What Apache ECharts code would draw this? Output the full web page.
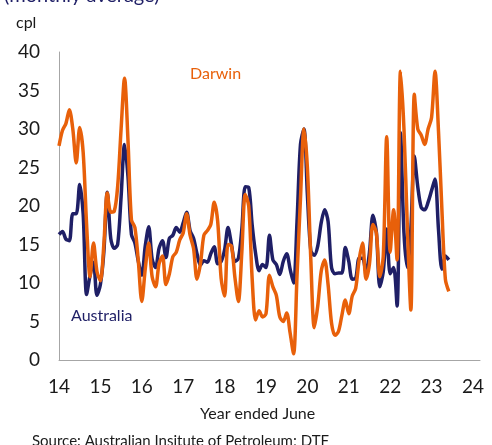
<!DOCTYPE html>
<html>
<head>
<meta charset="utf-8">
<script src="https://cdn.jsdelivr.net/npm/echarts@6/dist/echarts.min.js"></script>
<style>
  html, body { margin: 0; padding: 0; background: #fff; }
  #chart { width: 492px; height: 445px; }
</style>
</head>
<body>
<div id="chart"></div>
<script>
// monthly averages, cents per litre, first month sits on the "14" tick
var startYear = 14
var darwin = [
  27.8, 29.8, 30.7, 32.5, 30.0, 25.6, 30.2, 27.0, 17.6, 10.8,
  15.2, 11.5, 10.3, 15.0, 21.7, 19.2, 19.3, 22.5, 30.0, 36.6,
  28.5, 18.2, 17.2, 12.8, 7.6, 11.8, 15.2, 10.8, 9.5, 12.5,
  13.5, 9.8, 11.2, 13.4, 14.0, 15.6, 16.5, 19.0, 16.2, 14.5,
  10.5, 12.5, 16.2, 16.8, 17.6, 20.5, 18.0, 10.6, 8.3, 15.0,
  14.8, 10.7, 7.6, 14.0, 21.5, 20.0, 10.5, 5.2, 6.4, 5.6,
  6.0, 11.0, 9.5, 8.4, 5.6, 5.0, 6.1, 3.5, 0.8, 11.0,
  21.0, 30.0, 25.0, 13.0, 4.2, 7.0, 11.5, 13.0, 9.8, 4.8,
  3.2, 3.7, 5.8, 7.8, 6.0, 8.3, 9.3, 13.0, 15.2, 10.5,
  12.5, 17.6, 16.5, 10.8, 13.5, 29.0, 14.0, 19.5, 13.0, 37.5,
  30.0, 17.0, 6.5, 34.5, 30.0, 29.2, 28.0, 30.0, 31.5, 37.5,
  29.8, 19.5, 10.5, 8.9
]
var australia = [
  16.3, 16.7, 15.7, 15.5, 19.0, 19.0, 22.8, 19.0, 8.5, 11.0,
  12.7, 8.4, 9.8, 14.0, 21.8, 15.8, 14.5, 15.0, 21.2, 28.0,
  23.8, 16.3, 15.2, 12.8, 11.0, 14.8, 17.3, 13.1, 12.0, 14.5,
  15.5, 13.3, 15.8, 16.2, 17.2, 16.6, 17.8, 19.2, 16.8, 15.8,
  13.8, 12.3, 12.9, 12.7, 13.8, 14.7, 12.5, 12.8, 14.3, 17.2,
  15.0, 12.8, 13.2, 17.0, 22.5, 22.4, 17.5, 13.8, 11.6, 12.4,
  12.0, 16.2, 13.0, 12.4, 11.1, 12.8, 13.8, 11.8, 10.0, 18.0,
  28.0, 30.0, 21.5, 14.2, 13.6, 14.8, 17.8, 19.5, 18.0, 12.0,
  11.2, 11.3, 11.3, 14.6, 12.8, 10.5, 10.6, 13.2, 13.2, 11.4,
  14.0, 18.8, 16.6, 9.5, 11.5, 17.0, 11.2, 12.0, 7.0, 29.5,
  16.5, 12.0, 17.0, 26.5, 22.5, 19.8, 19.5, 20.5, 22.0, 23.5,
  17.0, 11.8, 13.5, 13.0
]
var yTicks = [0, 5, 10, 15, 20, 25, 30, 35, 40]

var navy = '#1f1f66'
var orange = '#e8600a'
var font = 'Lato'

function toPoints(list) {
  return list.map(function(v, i) {
    return [startYear + i / 12, v]
  })
}

var chart = echarts.init(document.getElementById('chart'))
chart.setOption({
  animation: false,
  grid: {
    left: 59,
    right: 12,
    top: 52,
    bottom: 85
  },
  xAxis: {
    type: 'value',
    min: 14,
    max: 24.17,
    interval: 1,
    splitLine: { show: false },
    axisTick: { show: false },
    axisLine: { show: true, lineStyle: { color: '#a6a6a6', width: 1 } },
    axisLabel: {
      margin: 17,
      fontFamily: font,
      fontSize: 19,
      color: '#1a1a1a',
      formatter: function(v) {
        return Number.isInteger(v) ? String(v) : ''
      }
    }
  },
  yAxis: {
    type: 'value',
    min: yTicks[0],
    max: yTicks[yTicks.length - 1],
    interval: 5,
    splitLine: { show: false },
    axisTick: { show: false },
    axisLine: { show: true, lineStyle: { color: '#a6a6a6', width: 1 } },
    axisLabel: {
      margin: 19,
      fontFamily: font,
      fontSize: 19,
      color: '#1a1a1a'
    }
  },
  graphic: [
    {
      type: 'text', left: 4, top: -14,
      style: { text: '(monthly average)', font: '20px Lato', fill: navy }
    },
    {
      type: 'text', left: 16, top: 15,
      style: { text: 'cpl', font: '16px Lato', fill: '#1a1a1a' }
    },
    {
      type: 'text', left: 190, top: 66,
      style: { text: 'Darwin', font: '16px Lato', fill: orange }
    },
    {
      type: 'text', left: 71, top: 308,
      style: { text: 'Australia', font: '16px Lato', fill: navy }
    },
    {
      type: 'text', left: 200, top: 406,
      style: { text: 'Year ended June', font: '16px Lato', fill: '#1a1a1a' }
    },
    {
      type: 'text', left: 32, top: 434,
      style: { text: 'Source: Australian Insitute of Petroleum; DTF', font: '15px Lato', fill: '#1a1a1a' }
    }
  ],
  series: [
    {
      name: 'Australia',
      type: 'line',
      data: toPoints(australia),
      smooth: 0.3,
      showSymbol: false,
      lineStyle: { color: navy, width: 3.5 }
    },
    {
      name: 'Darwin',
      type: 'line',
      data: toPoints(darwin),
      smooth: 0.3,
      showSymbol: false,
      lineStyle: { color: orange, width: 3.5 }
    }
  ]
})
</script>
</body>
</html>
